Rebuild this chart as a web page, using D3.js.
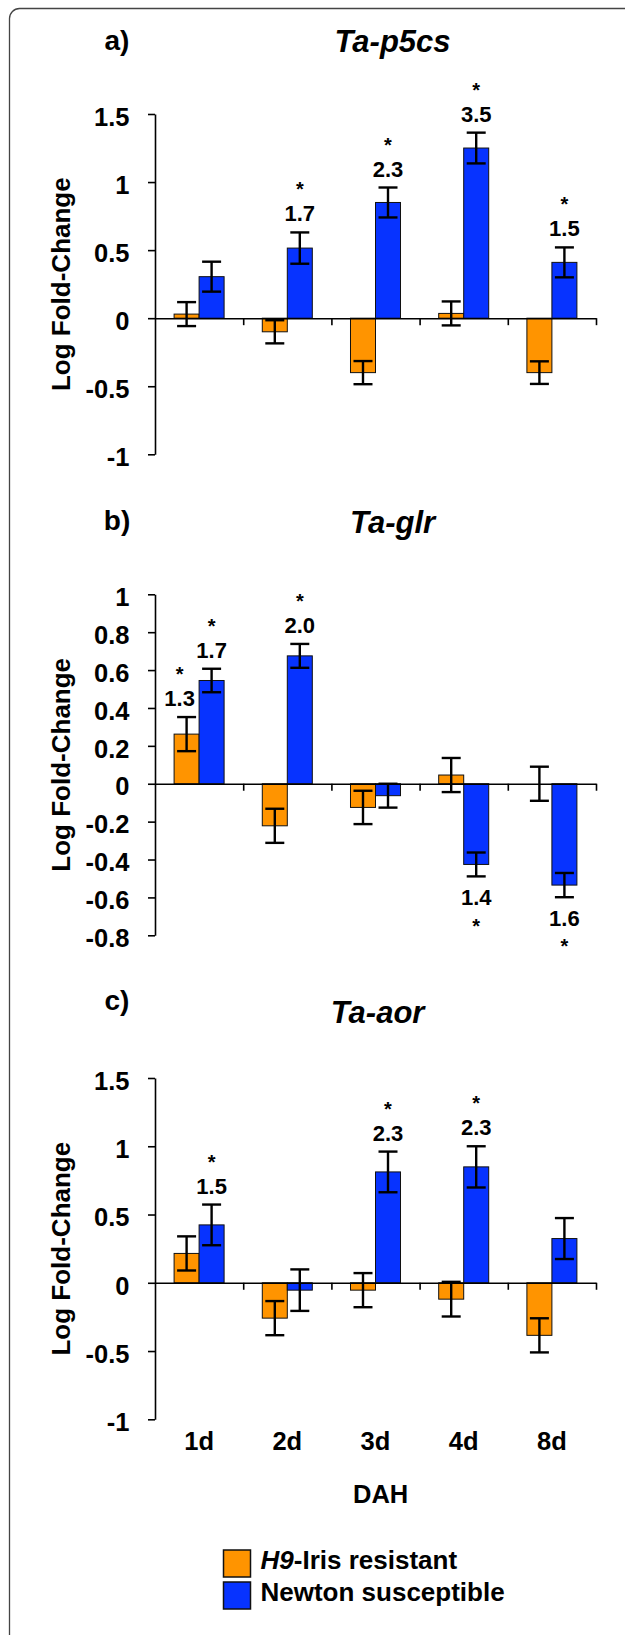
<!DOCTYPE html>
<html>
<head>
<meta charset="utf-8">
<script src="https://cdn.jsdelivr.net/npm/d3@7"></script>
<style>
  html, body { margin: 0; padding: 0; background: #fff; }
  svg { display: block; }
  text { font-family: "Liberation Sans", Arial, Helvetica, sans-serif; font-weight: bold; fill: #000; }
</style>
</head>
<body>
<svg id="chart" width="625" height="1635"></svg>
<script>
// ---------------- DATA ----------------
const categories = ["1d", "2d", "3d", "4d", "8d"];
const seriesNames = ["H9-Iris resistant", "Newton susceptible"];
const seriesColors = ["#FF9400", "#0733FF"];

// a) Ta-p5cs
const p5csResistant      = [0.03, -0.10, -0.40, 0.035, -0.40];
const p5csResistantErr   = [0.088, 0.085, 0.085, 0.088, 0.083];
const p5csSusceptible    = [0.305, 0.515, 0.85, 1.25, 0.41];
const p5csSusceptibleErr = [0.11, 0.115, 0.11, 0.113, 0.11];
const p5csNotes = [
  { s: 1, c: 1, t: "1.7" }, { s: 1, c: 2, t: "2.3" },
  { s: 1, c: 3, t: "3.5" }, { s: 1, c: 4, t: "1.5" }
];
const p5csTicks = [-1, -0.5, 0, 0.5, 1, 1.5];

// b) Ta-glr
const glrResistant      = [0.262, -0.222, -0.125, 0.046, 0.0];
const glrResistantErr   = [0.09, 0.09, 0.088, 0.09, 0.09];
const glrSusceptible    = [0.545, 0.675, -0.063, -0.426, -0.535];
const glrSusceptibleErr = [0.062, 0.063, 0.063, 0.063, 0.064];
const glrNotes = [
  { s: 0, c: 0, t: "1.3" }, { s: 1, c: 0, t: "1.7" }, { s: 1, c: 1, t: "2.0" },
  { s: 1, c: 3, t: "1.4" }, { s: 1, c: 4, t: "1.6" }
];
const glrTicks = [-0.8, -0.6, -0.4, -0.2, 0, 0.2, 0.4, 0.6, 0.8, 1];

// c) Ta-aor
const aorResistant      = [0.215, -0.259, -0.054, -0.12, -0.385];
const aorResistantErr   = [0.125, 0.125, 0.125, 0.127, 0.125];
const aorSusceptible    = [0.424, -0.054, 0.812, 0.849, 0.324];
const aorSusceptibleErr = [0.149, 0.152, 0.149, 0.151, 0.15];
const aorNotes = [
  { s: 1, c: 0, t: "1.5" }, { s: 1, c: 2, t: "2.3" }, { s: 1, c: 3, t: "2.3" }
];
const aorTicks = [-1, -0.5, 0, 0.5, 1, 1.5];

const yLabel = "Log Fold-Change";
const xLabel = "DAH";

// ---------------- LAYOUT ----------------
const panels = [
  { tag: "a)", title: "Ta-p5cs", vals: [p5csResistant, p5csSusceptible], errs: [p5csResistantErr, p5csSusceptibleErr],
    notes: p5csNotes, ticks: p5csTicks, top: 114, bottom: 454.3, tagY: 50, titleX: 392.6, titleY: 51.7 },
  { tag: "b)", title: "Ta-glr", vals: [glrResistant, glrSusceptible], errs: [glrResistantErr, glrSusceptibleErr],
    notes: glrNotes, ticks: glrTicks, top: 594.3, bottom: 935.3, tagY: 530, titleX: 392.6, titleY: 533.3 },
  { tag: "c)", title: "Ta-aor", vals: [aorResistant, aorSusceptible], errs: [aorResistantErr, aorSusceptibleErr],
    notes: aorNotes, ticks: aorTicks, top: 1078, bottom: 1419.3, tagY: 1010, titleX: 377.6, titleY: 1023.3 }
];

const xStart = 155, xEnd = 596;
const svg = d3.select("#chart");

// frame
svg.append("rect")
  .attr("x", 9.5).attr("y", 8.5).attr("width", 700).attr("height", 1700)
  .attr("rx", 10).attr("ry", 10)
  .attr("fill", "none").attr("stroke", "#444").attr("stroke-width", 1.3);

const x0 = d3.scaleBand().domain(categories).range([xStart, xEnd])
  .paddingInner(0.433).paddingOuter(0.2165);
const x1 = d3.scaleBand().domain([0, 1]).range([0, x0.bandwidth()]);
const xBound = d3.scaleLinear().domain([0, categories.length]).range([xStart, xEnd]);
const capHalf = 9.5;

panels.forEach(p => {
  const ext = d3.extent(p.ticks);
  const y = d3.scaleLinear().domain([ext[0], ext[1]]).range([p.bottom, p.top]);
  const g = svg.append("g");

  // panel tag and title
  g.append("text").attr("x", 117).attr("y", p.tagY).attr("text-anchor", "middle")
    .style("font-size", "28px").text(p.tag);
  g.append("text").attr("x", p.titleX).attr("y", p.titleY).attr("text-anchor", "middle")
    .style("font-size", "31px").style("font-style", "italic").text(p.title);

  // y label
  g.append("text")
    .attr("transform", `translate(70,${(p.top + p.bottom) / 2}) rotate(-90)`)
    .attr("text-anchor", "middle").style("font-size", "26px").text(yLabel);

  // bars
  p.vals.forEach((vals, s) => {
    g.selectAll(null).data(vals).enter().append("rect")
      .attr("x", (d, i) => x0(categories[i]) + x1(s))
      .attr("width", x1.bandwidth())
      .attr("y", d => Math.min(y(d), y(0)))
      .attr("height", d => Math.abs(y(d) - y(0)))
      .attr("fill", seriesColors[s])
      .attr("stroke", "#111").attr("stroke-width", 1);
  });

  // y axis
  const yAxis = d3.axisLeft(y).tickValues(p.ticks).tickSize(7).tickSizeOuter(0)
    .tickPadding(18.5).tickFormat(d => String(d));
  const ya = g.append("g").attr("transform", `translate(${xStart},0)`).call(yAxis);
  ya.selectAll("path, line").attr("stroke", "#000").attr("stroke-width", 1.6);
  ya.selectAll("text").attr("dy", "0.44em").style("font-size", "25.5px")
    .style("font-family", "'Liberation Sans', Arial, sans-serif").style("font-weight", "bold").attr("fill", "#000");

  // x axis at zero with boundary ticks
  const xAxis = d3.axisBottom(xBound).tickValues(d3.range(1, categories.length + 1))
    .tickSize(7).tickSizeOuter(0).tickFormat("");
  const xa = g.append("g").attr("transform", `translate(0,${y(0)})`).call(xAxis);
  xa.selectAll("path, line").attr("stroke", "#000").attr("stroke-width", 1.6);

  // error bars
  p.vals.forEach((vals, s) => {
    const errs = p.errs[s];
    vals.forEach((v, i) => {
      const cx = x0(categories[i]) + x1(s) + x1.bandwidth() / 2;
      const e = errs[i];
      const eg = g.append("g").attr("stroke", "#000").attr("stroke-width", 2.4);
      eg.append("line").attr("x1", cx).attr("x2", cx).attr("y1", y(v + e)).attr("y2", y(v - e));
      eg.append("line").attr("x1", cx - capHalf).attr("x2", cx + capHalf).attr("y1", y(v + e)).attr("y2", y(v + e));
      eg.append("line").attr("x1", cx - capHalf).attr("x2", cx + capHalf).attr("y1", y(v - e)).attr("y2", y(v - e));
    });
  });

  // fold-change annotations: value and significance star
  p.notes.forEach(n => {
    const v = p.vals[n.s][n.c], e = p.errs[n.s][n.c];
    const shift = (n.s === 0) ? -7 : 0;
    const cx = x0(categories[n.c]) + x1(n.s) + x1.bandwidth() / 2 + shift;
    let numY, starY;
    if (v >= 0) {
      numY = y(v + e) - 11;
      starY = numY - 25;
    } else {
      numY = y(v - e) + 28.7;
      starY = numY + 27.5;
    }
    g.append("text").attr("x", cx).attr("y", numY).attr("text-anchor", "middle")
      .style("font-size", "22px").text(n.t);
    g.append("text").attr("x", cx).attr("y", starY).attr("text-anchor", "middle")
      .style("font-size", "20px").text("*");
  });

  // category labels only on bottom panel
  if (p === panels[panels.length - 1]) {
    g.selectAll(null).data(categories).enter().append("text")
      .attr("x", d => x0(d) + x0.bandwidth() / 2)
      .attr("y", 1450).attr("text-anchor", "middle")
      .style("font-size", "25.5px").text(d => d);
    g.append("text").attr("x", 380.6).attr("y", 1503.3).attr("text-anchor", "middle")
      .style("font-size", "25.5px").text(xLabel);
  }
});

// legend
const lg = svg.append("g");
const legendRows = [1550, 1582];
seriesNames.forEach((name, i) => {
  lg.append("rect").attr("x", 223.5).attr("y", legendRows[i]).attr("width", 27).attr("height", 27)
    .attr("fill", seriesColors[i]).attr("stroke", "#111").attr("stroke-width", 1.5);
  const t = lg.append("text").attr("x", 260.5).attr("y", legendRows[i] + 18.5).style("font-size", "26px");
  if (i === 0) {
    const parts = name.split("-");
    t.append("tspan").style("font-style", "italic").text(parts[0]);
    t.append("tspan").text("-" + parts.slice(1).join("-"));
  } else {
    t.text(name);
  }
});
</script>
</body>
</html>
